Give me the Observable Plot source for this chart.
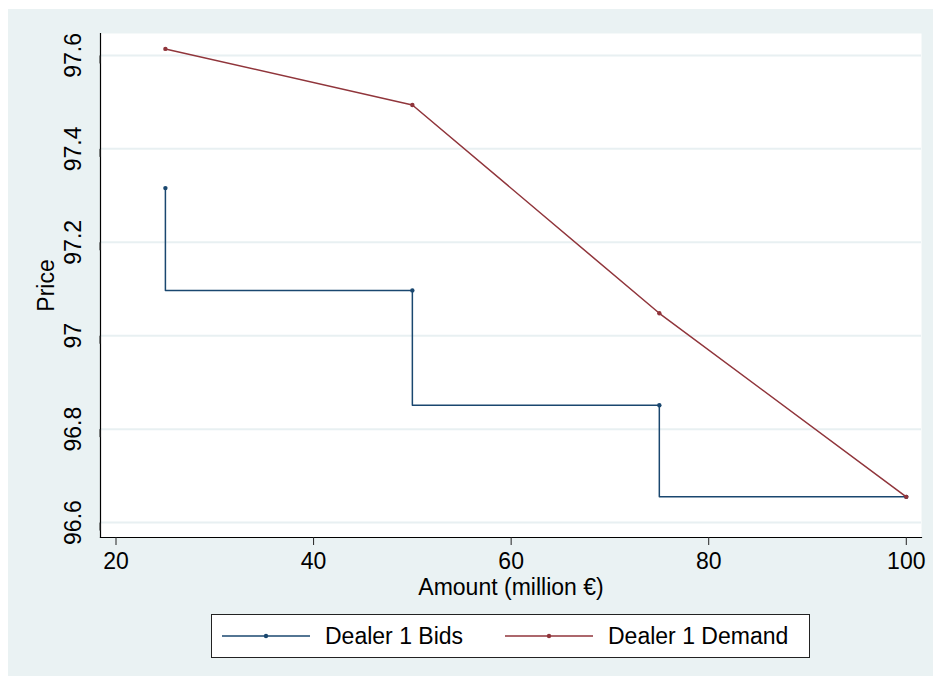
<!DOCTYPE html>
<html>
<head>
<meta charset="utf-8">
<script src="https://cdn.jsdelivr.net/npm/d3@7"></script>
<script src="https://cdn.jsdelivr.net/npm/@observablehq/plot@0.6"></script>
<style>
  body { margin: 0; background: #ffffff; }
  #bg { position: absolute; left: 8px; top: 9px; width: 925px; height: 667px; background: #eaf2f3;
        font-family: "Liberation Sans", Arial, Helvetica, sans-serif; }
  #chart { position: absolute; left: 0; top: 0; }
  #legend { position: absolute; left: 203px; top: 605px; width: 597px; height: 42px; background: #fff;
            border: 1.5px solid #222; }
  #legend svg { position: absolute; left: 0; top: 0; }
  .lg-text { position: absolute; top: 0; height: 42px; line-height: 43px; font-size: 23px; color: #000; white-space: nowrap; }
</style>
</head>
<body>
<div id="bg">
  <div id="chart"></div>
  <div id="legend"></div>
</div>
<script>
// ---- data ----
const amounts = [25, 50, 75, 100];
const bidPrices = [97.316, 97.097, 96.851, 96.655];
const demandPrices = [97.614, 97.494, 97.048, 96.655];
const xTicks = [20, 40, 60, 80, 100];
const yTicks = [96.6, 96.8, 97, 97.2, 97.4, 97.6];
const seriesNames = ["Dealer 1 Bids", "Dealer 1 Demand"];
const seriesColors = ["#1a476f", "#90353b"];
const xTitle = "Amount (million €)";
const yTitle = "Price";

const bids = amounts.map((a, i) => ({amount: a, price: bidPrices[i]}));
const demand = amounts.map((a, i) => ({amount: a, price: demandPrices[i]}));

const FONT = "'Liberation Sans', Arial, Helvetica, sans-serif";

const chart = Plot.plot({
  width: 925,
  height: 600,
  marginLeft: 92,
  marginRight: 12,
  marginTop: 24,
  marginBottom: 72,
  style: {background: "transparent", fontFamily: FONT, fontSize: "23px", color: "#000", overflow: "visible"},
  x: {domain: [18.43, 101.54]},
  y: {domain: [96.568, 97.647]},
  marks: [
    Plot.frame({fill: "white", stroke: null}),
    Plot.gridY(yTicks, {stroke: "#e8f0f2", strokeOpacity: 1, strokeWidth: 2}),
    Plot.frame({anchor: "left", stroke: "#000", strokeWidth: 1.2}),
    Plot.frame({anchor: "bottom", stroke: "#000", strokeWidth: 1.2}),
    Plot.axisY(yTicks, {tickSize: 8, tickPadding: 19, rotate: -90, textAnchor: "middle",
      tickFormat: d => String(d), fontSize: 23, label: null, stroke: "#222"}),
    Plot.axisX(xTicks, {tickSize: 8, tickPadding: 7, fontSize: 23, label: null, tickFormat: d => String(d), stroke: "#222"}),
    Plot.line(bids, {x: "amount", y: "price", curve: "step-before", stroke: seriesColors[0], strokeWidth: 1.5}),
    Plot.dot(bids, {x: "amount", y: "price", r: 2.2, fill: seriesColors[0], stroke: null}),
    Plot.line(demand, {x: "amount", y: "price", stroke: seriesColors[1], strokeWidth: 1.5}),
    Plot.dot(demand, {x: "amount", y: "price", r: 2.2, fill: seriesColors[1], stroke: null}),
    Plot.text([yTitle], {frameAnchor: "left", dx: -54, rotate: -90, textAnchor: "middle", lineAnchor: "middle", fontSize: 23, fill: "#000"}),
    Plot.text([xTitle], {frameAnchor: "bottom", dy: 57, textAnchor: "middle", fontSize: 23, fill: "#000"})
  ]
});
document.getElementById("chart").appendChild(chart);

// ---- legend ----
const legend = document.getElementById("legend");
const keyX = [[10, 98], [293, 381]];
const textX = [113, 396];
const ns = "http://www.w3.org/2000/svg";
const svg = document.createElementNS(ns, "svg");
svg.setAttribute("width", 597);
svg.setAttribute("height", 42);
seriesNames.forEach((name, i) => {
  const [x1, x2] = keyX[i];
  const ln = document.createElementNS(ns, "line");
  ln.setAttribute("x1", x1); ln.setAttribute("x2", x2);
  ln.setAttribute("y1", 21); ln.setAttribute("y2", 21);
  ln.setAttribute("stroke", seriesColors[i]); ln.setAttribute("stroke-width", 1.5);
  svg.appendChild(ln);
  const c = document.createElementNS(ns, "circle");
  c.setAttribute("cx", (x1 + x2) / 2); c.setAttribute("cy", 21); c.setAttribute("r", 2.2);
  c.setAttribute("fill", seriesColors[i]);
  svg.appendChild(c);
  const t = document.createElement("div");
  t.className = "lg-text";
  t.style.left = textX[i] + "px";
  t.textContent = name;
  legend.appendChild(t);
});
legend.appendChild(svg);
</script>
</body>
</html>
